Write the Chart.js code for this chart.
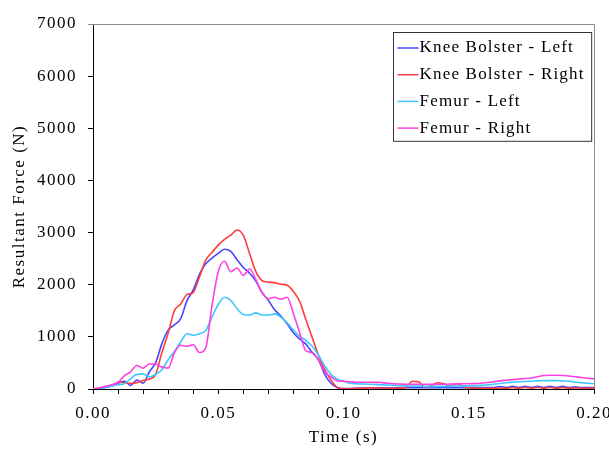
<!DOCTYPE html>
<html>
<head>
<meta charset="utf-8">
<script src="https://cdn.jsdelivr.net/npm/chart.js@4"></script>
<style>
  html, body { margin: 0; padding: 0; background: #fff; }
  #wrap { width: 609px; height: 449px; }
</style>
</head>
<body>
<div id="wrap"><canvas id="myChart" width="609" height="449"></canvas></div>
<script>
// sample times, seconds (every 2.5 ms)
const timeS = [
  0, 0.0025, 0.005, 0.0075, 0.01, 0.0125, 0.015, 0.0175, 0.02, 0.0225,
  0.025, 0.0275, 0.03, 0.0325, 0.035, 0.0375, 0.04, 0.0425, 0.045, 0.0475,
  0.05, 0.0525, 0.055, 0.0575, 0.06, 0.0625, 0.065, 0.0675, 0.07, 0.0725,
  0.075, 0.0775, 0.08, 0.0825, 0.085, 0.0875, 0.09, 0.0925, 0.095, 0.0975,
  0.1, 0.1025, 0.105, 0.1075, 0.11, 0.1125, 0.115, 0.1175, 0.12, 0.1225,
  0.125, 0.1275, 0.13, 0.1325, 0.135, 0.1375, 0.14, 0.1425, 0.145, 0.1475,
  0.15, 0.1525, 0.155, 0.1575, 0.16, 0.1625, 0.165, 0.1675, 0.17, 0.1725,
  0.175, 0.1775, 0.18, 0.1825, 0.185, 0.1875, 0.19, 0.1925, 0.195, 0.1975, 0.2
];

// resultant forces, N
const kneeBolsterLeft = [
  0, 10, 30, 60, 110, 150, 70, 170, 110, 330,
  500, 870, 1130, 1230, 1350, 1690, 1900, 2200, 2400, 2510,
  2600, 2680, 2640, 2480, 2330, 2220, 2070, 1850, 1700, 1520,
  1400, 1250, 1080, 960, 860, 700, 560, 280, 110, 30,
  10, 10, 15, 20, 25, 25, 25, 25, 25, 25,
  25, 25, 25, 25, 25, 25, 25, 25, 25, 25,
  25, 30, 30, 30, 30, 45, 30, 50, 30, 50,
  30, 50, 30, 50, 30, 50, 30, 40, 30, 30, 30
];
const kneeBolsterRight = [
  0, 20, 40, 70, 130, 120, 110, 120, 165, 190,
  280, 700, 1070, 1500, 1630, 1810, 1850, 2150, 2470, 2620,
  2760, 2870, 2950, 3050, 2950, 2600, 2250, 2080, 2050, 2040,
  2010, 1990, 1870, 1680, 1330, 990, 650, 370, 170, 30,
  0, 5, 10, 15, 20, 20, 15, 15, 20, 15,
  30, 150, 140, 30, 60, 120, 100, 60, 100, 60,
  20, 15, 15, 15, 15, 15, 10, 30, 10, 35,
  10, 35, 10, 35, 10, 30, 10, 20, 15, 15, 15
];
const femurLeft = [
  0, 10, 30, 60, 80, 100, 200, 280, 290, 230,
  280, 370, 560, 720, 900, 1060, 1030, 1060, 1120, 1380,
  1620, 1760, 1700, 1540, 1430, 1420, 1460, 1420, 1420, 1440,
  1380, 1270, 1130, 1010, 930, 820, 650, 440, 280, 190,
  150, 110, 100, 95, 90, 85, 80, 75, 70, 65,
  60, 55, 55, 50, 50, 50, 50, 55, 55, 60,
  60, 65, 70, 80, 90, 105, 120, 130, 140, 145,
  150, 155, 160, 160, 160, 155, 150, 135, 120, 110, 100
];
const femurRight = [
  0, 20, 50, 80, 120, 250, 330, 450, 400, 480,
  480, 420, 400, 700, 840, 820, 850, 700, 790, 1600,
  2250, 2450, 2250, 2320, 2180, 2300, 2100, 1850, 1730, 1760,
  1720, 1760, 1450, 1080, 730, 700, 560, 330, 230, 160,
  150, 140, 130, 130, 130, 128, 125, 110, 100, 95,
  90, 90, 90, 90, 90, 90, 90, 95, 95, 100,
  100, 105, 110, 125, 140, 155, 170, 180, 190, 200,
  210, 235, 260, 265, 265, 260, 250, 235, 220, 205, 195
];

const seriesNames = ['Knee Bolster - Left', 'Knee Bolster - Right', 'Femur - Left', 'Femur - Right'];
const seriesValues = [kneeBolsterLeft, kneeBolsterRight, femurLeft, femurRight];
const seriesColors = ['#4646FF', '#FF3C3C', '#3CC8FF', '#FF40E0'];

const serif = "'Liberation Serif', serif";
Chart.defaults.font.family = serif;
Chart.defaults.font.size = 17;
Chart.defaults.color = '#000';

// wider glyph spacing on every text drawn on the canvas
const spacing = {
  id: 'spacing',
  beforeDraw(chart) { chart.ctx.letterSpacing = '1.5px'; }
};

// gray frame on top and right of the plot, boxed legend in the corner
const frameAndLegend = {
  id: 'frameAndLegend',
  afterDraw(chart) {
    const ctx = chart.ctx;
    const a = chart.chartArea;
    ctx.save();
    ctx.strokeStyle = '#8c8c8c';
    ctx.lineWidth = 1;
    ctx.beginPath();
    ctx.moveTo(a.left - 5, a.top + 0.5);
    ctx.lineTo(a.right + 0.5, a.top + 0.5);
    ctx.lineTo(a.right + 0.5, a.bottom);
    ctx.stroke();

    ctx.font = '17px ' + serif;
    ctx.letterSpacing = '1.2px';
    const textW = Math.max(...chart.data.datasets.map(d => ctx.measureText(d.label).width));
    const boxW = 4 + 21 + 2 + textW + 6;
    const rowH = 26.7;
    const boxH = rowH * chart.data.datasets.length + 2;
    const x0 = Math.round(a.right - 3 - boxW) + 0.5;
    const y0 = a.top + 8.5;
    ctx.fillStyle = '#fff';
    ctx.fillRect(x0, y0, boxW, boxH);
    ctx.strokeStyle = '#333';
    ctx.strokeRect(x0, y0, boxW, boxH);

    ctx.textBaseline = 'middle';
    ctx.textAlign = 'left';
    chart.data.datasets.forEach((d, i) => {
      const y = y0 + 15.5 + i * rowH;
      ctx.strokeStyle = d.borderColor;
      ctx.lineWidth = 1.5;
      ctx.beginPath();
      ctx.moveTo(x0 + 4, y);
      ctx.lineTo(x0 + 25, y);
      ctx.stroke();
      ctx.fillStyle = '#000';
      ctx.fillText(d.label, x0 + 26, y);
    });
    ctx.restore();
  }
};

const chartData = {
  labels: timeS,
  datasets: seriesNames.map((name, i) => ({
    label: name,
    data: seriesValues[i],
    borderColor: seriesColors[i],
    backgroundColor: seriesColors[i],
    borderWidth: 1.6,
    pointRadius: 0,
    fill: false,
    cubicInterpolationMode: 'monotone',
    order: seriesNames.length - i
  }))
};

const ctx = document.getElementById('myChart').getContext('2d');
const myChart = new Chart(ctx, {
  type: 'line',
  data: chartData,
  options: {
    responsive: false,
    animation: false,
    layout: { padding: { top: 24, right: 15, left: 0, bottom: 0 } },
    plugins: {
      legend: { display: false },
      tooltip: { enabled: false }
    },
    scales: {
      x: {
        type: 'linear',
        min: 0,
        max: 0.2,
        title: { display: true, text: 'Time (s)', padding: { top: 0, bottom: 1 } },
        border: { color: '#000', width: 1 },
        grid: { drawOnChartArea: false, drawTicks: true, tickLength: 5, color: '#000' },
        ticks: {
          stepSize: 0.01,
          autoSkip: false,
          maxRotation: 0,
          padding: 9,
          callback: v => (Math.round(v * 100) % 5 === 0 ? v.toFixed(2) : '')
        },
        afterFit(scale) {
          scale.height = 60;
          scale.paddingLeft = 0;
          scale.paddingRight = 0;
        }
      },
      y: {
        min: 0,
        max: 7000,
        title: { display: true, text: 'Resultant Force (N)', padding: { top: 9, bottom: 0 } },
        border: { color: '#000', width: 1 },
        grid: { drawOnChartArea: false, drawTicks: true, tickLength: 5, color: '#000' },
        ticks: { stepSize: 1000, padding: 11, callback: v => String(v) },
        afterFit(scale) {
          scale.width = 93;
          scale.paddingTop = 0;
          scale.paddingBottom = 0;
        }
      }
    }
  },
  plugins: [spacing, frameAndLegend]
});
</script>
</body>
</html>
